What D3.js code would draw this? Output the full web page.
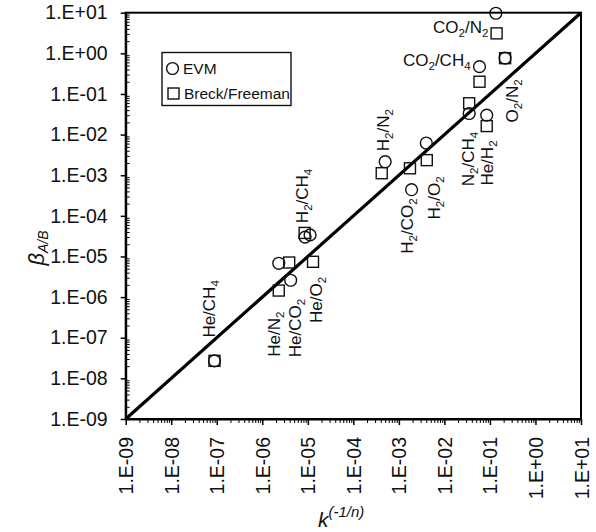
<!DOCTYPE html>
<html>
<head>
<meta charset="utf-8">
<script src="https://cdn.jsdelivr.net/npm/d3@7"></script>
<style>
  html, body { margin: 0; padding: 0; background: #fff; }
  svg { display: block; font-family: "Liberation Sans", Arial, sans-serif; }
</style>
</head>
<body>
<svg id="chart" width="596" height="532"></svg>
<script>
// Gas pairs A/B
const pairs = ["He/CH4", "He/N2", "He/CO2", "He/O2", "H2/CH4", "H2/N2", "H2/CO2",
               "H2/O2", "N2/CH4", "He/H2", "CO2/CH4", "CO2/N2", "O2/N2"];

// EVM series: k^(-1/n) and beta_A/B
const evmK    = [8.9e-8, 2.3e-6, 4.2e-6, 1.12e-5, 8.7e-6, 5.0e-4, 1.9e-3, 4.0e-3, 3.5e-2, 8.5e-2, 5.9e-2, 1.35e-1, 2.15e-1];
const evmBeta = [2.7e-8, 6.8e-6, 2.6e-6, 3.4e-5, 3.0e-5, 2.15e-3, 4.4e-4, 6.2e-3, 3.3e-2, 3.0e-2, 4.7e-1, 9.7e+0, 7.6e-1];

// Breck/Freeman series
const bfK    = [8.9e-8, 2.3e-6, 3.9e-6, 1.3e-5, 8.5e-6, 4.2e-4, 1.75e-3, 4.1e-3, 3.5e-2, 8.5e-2, 5.9e-2, 1.4e-1, 2.15e-1];
const bfBeta = [2.7e-8, 1.45e-6, 7.1e-6, 7.4e-6, 3.8e-5, 1.12e-3, 1.48e-3, 2.35e-3, 5.9e-2, 1.62e-2, 2.0e-1, 3.1e+0, 7.6e-1];

// Axis decades (exponents of ten) for both axes
const decades = [-9, -8, -7, -6, -5, -4, -3, -2, -1, 0, 1];

// Where each pair name is written: [log10 k, log10 beta, rotated]
const labelAt = {
  "He/CH4":  [-7.17, -6.29, true],
  "He/N2":   [-5.74, -6.91, true],
  "He/CO2":  [-5.28, -6.76, true],
  "He/O2":   [-4.82, -6.07, true],
  "H2/CH4":  [-5.13, -3.51, true],
  "H2/N2":   [-3.35, -1.89, true],
  "H2/CO2":  [-2.82, -4.25, true],
  "H2/O2":   [-2.23, -3.56, true],
  "N2/CH4":  [-1.48, -2.60, true],
  "He/H2":   [-1.06, -2.70, true],
  "O2/N2":   [-0.52, -1.17, true],
  "CO2/CH4": [-2.91, -0.31, false],
  "CO2/N2":  [-2.25, 0.50, false]
};

const svg = d3.select("#chart");
const plotL = 125.7, plotR = 581, plotT = 12.7, plotB = 419;

const x = d3.scaleLog().domain([1e-9, 1e1]).range([plotL, plotR]);
const y = d3.scaleLog().domain([1e-9, 1e1]).range([plotB, plotT]);

const fmt = v => {
  const e = Math.round(Math.log10(v));
  const s = String(Math.abs(e)).padStart(2, "0");
  return "1.E" + (e < 0 ? "-" : "+") + s;
};

const majors = decades.map(e => Math.pow(10, e));
const minors = [];
decades.slice(0, -1).forEach(e => {
  for (let m = 2; m <= 9; m++) minors.push(m * Math.pow(10, e));
});

// Plot frame
svg.append("rect")
  .attr("x", plotL).attr("y", plotT)
  .attr("width", plotR - plotL).attr("height", plotB - plotT)
  .attr("fill", "none").attr("stroke", "#000").attr("stroke-width", 2);

// Parity line beta = k
svg.append("line")
  .attr("x1", x(1e-9)).attr("y1", y(1e-9))
  .attr("x2", x(1e1)).attr("y2", y(1e1))
  .attr("stroke", "#000").attr("stroke-width", 3.2);

// Y axis: major ticks outward, minor ticks inward
const yMajor = svg.append("g").attr("transform", `translate(${plotL},0)`)
  .call(d3.axisLeft(y).tickValues(majors).tickSize(5).tickSizeOuter(0).tickFormat(fmt));
yMajor.select(".domain").attr("stroke-width", 2);
yMajor.selectAll(".tick line").attr("stroke-width", 1.5);
yMajor.selectAll(".tick text")
  .attr("font-size", 19.5).attr("fill", "#111")
  .attr("x", -18).attr("text-anchor", "end");

svg.append("g").attr("transform", `translate(${plotL},0)`)
  .call(d3.axisRight(y).tickValues(minors).tickSize(4).tickFormat(""))
  .call(g => g.select(".domain").remove())
  .selectAll(".tick line").attr("stroke-width", 1);

// X axis: major and minor ticks outward, labels rotated
const xMajor = svg.append("g").attr("transform", `translate(0,${plotB})`)
  .call(d3.axisBottom(x).tickValues(majors).tickSize(6).tickSizeOuter(0).tickFormat(fmt));
xMajor.select(".domain").attr("stroke-width", 2);
xMajor.selectAll(".tick line").attr("stroke-width", 1.5);
xMajor.selectAll(".tick text")
  .attr("font-size", 19.5).attr("fill", "#111")
  .attr("text-anchor", "end")
  .attr("transform", "translate(0,18) rotate(-90)")
  .attr("x", 0).attr("y", 0).attr("dy", "0.36em");

svg.append("g").attr("transform", `translate(0,${plotB})`)
  .call(d3.axisBottom(x).tickValues(minors).tickSize(4).tickFormat(""))
  .call(g => g.select(".domain").remove())
  .selectAll(".tick line").attr("stroke-width", 1);

// Markers
const evm = pairs.map((p, i) => ({ p, k: evmK[i], b: evmBeta[i] }));
const bf  = pairs.map((p, i) => ({ p, k: bfK[i], b: bfBeta[i] }));
const side = 11;

svg.append("g").selectAll("rect").data(bf).join("rect")
  .attr("x", d => x(d.k) - side / 2).attr("y", d => y(d.b) - side / 2)
  .attr("width", side).attr("height", side)
  .attr("fill", "none").attr("stroke", "#111").attr("stroke-width", 1.4);

svg.append("g").selectAll("circle").data(evm).join("circle")
  .attr("cx", d => x(d.k)).attr("cy", d => y(d.b)).attr("r", 5.9)
  .attr("fill", "none").attr("stroke", "#111").attr("stroke-width", 1.4);

// Chemical formula with subscript digits
function formula(sel, str, size) {
  const parts = str.match(/[A-Za-z\/]+|\d+/g);
  const shift = size * 0.22;
  let pending = 0;
  parts.forEach(t => {
    const sub = /^\d+$/.test(t);
    const ts = sel.append("tspan").text(t)
      .attr("font-size", sub ? size * 0.68 : size);
    const dy = (sub ? shift : 0) - pending;
    if (dy !== 0) ts.attr("dy", dy);
    pending = sub ? shift : 0;
  });
}

const labSize = 17;
pairs.forEach(p => {
  const [lk, lb, rot] = labelAt[p];
  const px = x(Math.pow(10, lk)), py = y(Math.pow(10, lb));
  const t = svg.append("text").attr("fill", "#111");
  if (rot) {
    t.attr("transform", `translate(${px},${py}) rotate(-90) translate(0,${labSize * 0.36})`)
     .attr("text-anchor", "middle");
  } else {
    t.attr("x", px).attr("y", py).attr("text-anchor", "start");
  }
  formula(t, p, labSize);
});

// Legend
const lg = svg.append("g");
lg.append("rect").attr("x", 162).attr("y", 52.5).attr("width", 129).attr("height", 53)
  .attr("fill", "#fff").attr("stroke", "#111").attr("stroke-width", 1.4);
lg.append("circle").attr("cx", 172.5).attr("cy", 68.5).attr("r", 5.9)
  .attr("fill", "none").attr("stroke", "#111").attr("stroke-width", 1.4);
lg.append("text").attr("x", 183).attr("y", 74).attr("font-size", 15.5).attr("fill", "#111").text("EVM");
lg.append("rect").attr("x", 168).attr("y", 88).attr("width", side).attr("height", side)
  .attr("fill", "none").attr("stroke", "#111").attr("stroke-width", 1.4);
lg.append("text").attr("x", 184).attr("y", 99).attr("font-size", 15.5).attr("fill", "#111").text("Breck/Freeman");

// Axis titles
const yt = svg.append("text")
  .attr("transform", "translate(44,248) rotate(-90)")
  .attr("text-anchor", "middle").attr("fill", "#111");
yt.append("tspan").attr("font-size", 22).attr("font-style", "italic").text("β");
yt.append("tspan").attr("font-size", 14).attr("font-style", "italic").attr("dy", 4).text("A/B");

const xt = svg.append("text").attr("x", 318).attr("y", 527).attr("fill", "#111");
xt.append("tspan").attr("font-size", 21).attr("font-style", "italic").text("k");
xt.append("tspan").attr("font-size", 15).attr("font-style", "italic").attr("dy", -10).text("(-1/n)");
</script>
</body>
</html>
